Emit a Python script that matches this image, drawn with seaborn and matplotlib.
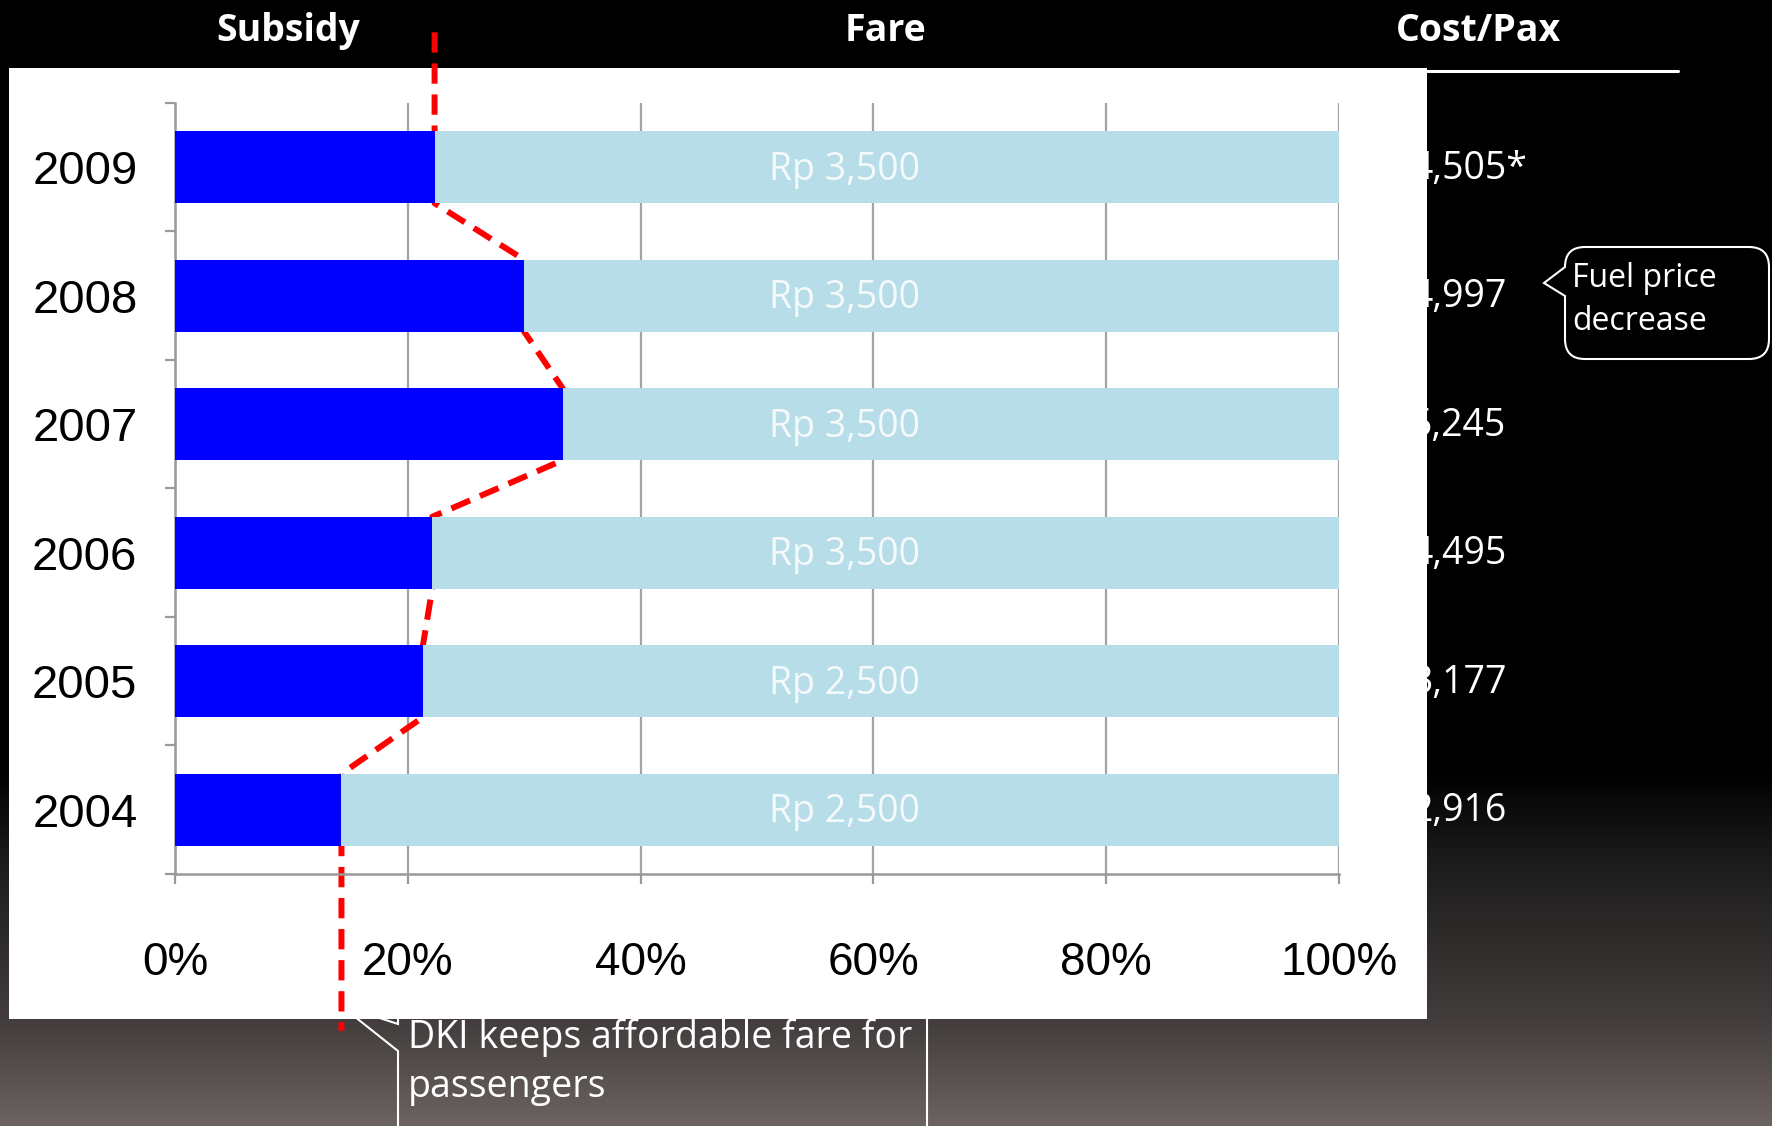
import numpy as np
import matplotlib
matplotlib.use("Agg")
import matplotlib.pyplot as plt
import seaborn as sns
import pandas as pd
from matplotlib.path import Path
from matplotlib.patches import PathPatch, Rectangle
from matplotlib.transforms import blended_transform_factory
from matplotlib.lines import Line2D

# ---------------- data ----------------
years = ["2009", "2008", "2007", "2006", "2005", "2004"]
subsidy_pct = [22.3, 30.0, 33.3, 22.1, 21.3, 14.3]
fare_total = [100, 100, 100, 100, 100, 100]
fare_labels = ["Rp 3,500", "Rp 3,500", "Rp 3,500", "Rp 3,500", "Rp 2,500", "Rp 2,500"]
cost_labels = ["4,505*", "4,997", "5,245", "4,495", "3,177", "2,916"]
headers = ["Subsidy", "Fare", "Cost/Pax"]
x_ticks = [0, 20, 40, 60, 80, 100]
x_tick_labels = ["0%", "20%", "40%", "60%", "80%", "100%"]
note_fuel = "Fuel price\ndecrease"
note_dki = "DKI keeps affordable fare for\npassengers"

# ---------------- setup ----------------
W, H, DPI = 1772, 1126, 100
sns.set_theme(style="white")
plt.rcParams['font.family'] = ['Open Sans', 'DejaVu Sans']

fig = plt.figure(figsize=(W / DPI, H / DPI), dpi=DPI)
fig.patch.set_facecolor('black')


def fx(x):
    return x / W


def fy(y):
    return 1 - y / H


# background gradient (black -> warm grey at the bottom)
bg = fig.add_axes([0, 0, 1, 1], zorder=-10)
ys = np.arange(H)
stops_y = [0, 770, 860, 1019, 1126]
stops_c = np.array([[0, 0, 0], [0, 0, 0], [28, 27, 27], [66, 60, 60], [108, 100, 98]]) / 255
grad = np.stack([np.interp(ys, stops_y, stops_c[:, k]) for k in range(3)], axis=-1)
bg.imshow(np.repeat(grad[:, None, :], 2, axis=1), aspect='auto', extent=[0, 1, 0, 1])
bg.axis('off')

# white chart panel
fig.add_artist(Rectangle((fx(9), fy(1019)), fx(1427) - fx(9), fy(68) - fy(1019),
                         transform=fig.transFigure, facecolor='white',
                         edgecolor='none', zorder=-2))

# ---------------- main axes ----------------
ax = fig.add_axes([fx(175), fy(874), fx(1339) - fx(175), fy(103) - fy(874)], zorder=0)
ax.set_facecolor('white')
df = pd.DataFrame({'year': years, 'subsidy': subsidy_pct, 'total': fare_total})
BAR_H = 0.56
sns.barplot(data=df, x='total', y='year', orient='h', color='#B7DDE8', width=BAR_H,
            saturation=1, linewidth=0, ax=ax, zorder=2)
sns.barplot(data=df, x='subsidy', y='year', orient='h', color='#0000FF', width=BAR_H,
            saturation=1, linewidth=0, ax=ax, zorder=3)

ax.set_xlim(0, 100)
ax.set_ylim(5.5, -0.5)
ax.set_xlabel('')
ax.set_ylabel('')
ax.set_xticks(x_ticks)
ax.set_xticklabels(x_tick_labels)
ax.set_yticks(np.arange(-0.5, 6.0, 1.0), minor=True)
ax.xaxis.grid(True, color='#a3a3a3', lw=1.6)
ax.yaxis.grid(False)
ax.set_axisbelow(True)
for s in ['top', 'right']:
    ax.spines[s].set_visible(False)
for s in ['left', 'bottom']:
    ax.spines[s].set_color('#999999')
    ax.spines[s].set_linewidth(1.8)
ax.tick_params(axis='x', which='major', length=7, width=1.6, color='#999999',
               pad=41, labelsize=33, labelcolor='black', bottom=True)
ax.tick_params(axis='y', which='major', length=0, pad=27, labelsize=34, labelcolor='black')
ax.tick_params(axis='y', which='minor', length=7, width=1.6, color='#999999', left=True)
for lbl in ax.get_xticklabels() + ax.get_yticklabels():
    lbl.set_fontfamily(['Liberation Sans', 'DejaVu Sans'])

# fare labels inside bars
for i, lab in enumerate(fare_labels):
    ax.text(57.5, i + 0.02, lab, ha='center', va='center', color='#F4F9FB',
            fontsize=27, zorder=5)

# red dashed path linking the subsidy bar ends
px = [subsidy_pct[0]]
py = [-1.05]
for i, s in enumerate(subsidy_pct):
    px += [s, s]
    py += [i - BAR_H / 2, i + BAR_H / 2]
px.append(subsidy_pct[-1])
py.append(6.72)
ax.plot(px, py, color='#FF0000', lw=4.3, dashes=(3.4, 1.8), clip_on=False, zorder=1.5)

# cost per pax (partly hidden behind the white panel)
btr = blended_transform_factory(fig.transFigure, ax.transData)
for i, lab in enumerate(cost_labels):
    fig.text(fx(1411), i + 0.01, lab, transform=btr, ha='left', va='center',
             color='white', fontsize=27, zorder=-5)

# ---------------- headers ----------------
for x, t in zip([288, 886, 1478], headers):
    fig.text(fx(x), fy(31), t, ha='center', va='center', color='white',
             fontsize=27, fontweight='bold', zorder=5)
fig.add_artist(Line2D([fx(1427), fx(1678)], [fy(71), fy(71)], color='white',
                      lw=2.2, transform=fig.transFigure, zorder=5))


# ---------------- callouts ----------------
def callout_path(x0, y0, x1, y1, r, tip, b1, b2):
    rx = r
    verts = [
        (x0 + rx, y0), (x1 - rx, y0), (x1, y0), (x1, y0 + rx),
        (x1, y1 - rx), (x1, y1), (x1 - rx, y1),
        (x0 + rx, y1), (x0, y1), (x0, y1 - rx),
        (x0, b2), tip, (x0, b1),
        (x0, y0 + rx), (x0, y0), (x0 + rx, y0), (x0 + rx, y0)]
    codes = [Path.MOVETO, Path.LINETO, Path.CURVE3, Path.CURVE3,
             Path.LINETO, Path.CURVE3, Path.CURVE3,
             Path.LINETO, Path.CURVE3, Path.CURVE3,
             Path.LINETO, Path.LINETO, Path.LINETO,
             Path.LINETO, Path.CURVE3, Path.CURVE3, Path.CLOSEPOLY]
    verts = [(fx(a), fy(b)) for a, b in verts]
    return Path(verts, codes)


fuel = PathPatch(callout_path(1565, 247, 1769, 359, 20, (1544, 283), 267, 296),
                 transform=fig.transFigure, facecolor='black', edgecolor='white',
                 lw=1.5, zorder=4)
fig.add_artist(fuel)
fig.text(fx(1572), fy(300), note_fuel, ha='left', va='center', color='white',
         fontsize=23, linespacing=1.4, zorder=6)

dki = PathPatch(callout_path(398, 1008, 927, 1160, 6, (340, 1005), 1024, 1051),
                transform=fig.transFigure, facecolor='none', edgecolor='white',
                lw=1.5, zorder=-3)
fig.add_artist(dki)
fig.text(fx(408), fy(1062), note_dki, ha='left', va='center', color='white',
         fontsize=27, linespacing=1.38, zorder=6)

fig.savefig('out.png', dpi=DPI, facecolor=fig.get_facecolor())
